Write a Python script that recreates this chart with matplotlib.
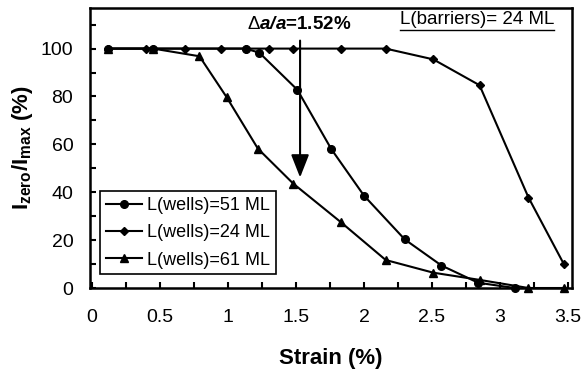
import matplotlib
matplotlib.use("Agg")
import matplotlib.pyplot as plt
from matplotlib.ticker import MultipleLocator

plt.rcParams['font.family'] = ['Liberation Sans', 'DejaVu Sans']
plt.rcParams['mathtext.fontset'] = 'custom'
plt.rcParams['mathtext.rm'] = 'Liberation Sans'
plt.rcParams['mathtext.it'] = 'Liberation Sans:italic'
plt.rcParams['mathtext.bf'] = 'Liberation Sans:bold'
plt.rcParams['mathtext.bfit'] = 'Liberation Sans:bold:italic'

# data
x_51 = [0.12, 0.45, 1.13, 1.23, 1.51, 1.76, 2.00, 2.30, 2.57, 2.84, 3.11]
y_51 = [100, 100, 100, 98.3, 82.8, 58.0, 38.6, 20.3, 9.4, 2.2, 0]

x_24 = [0.12, 0.40, 0.68, 0.95, 1.13, 1.30, 1.48, 1.83, 2.16, 2.51, 2.85, 3.21, 3.47]
y_24 = [100, 100, 100, 100, 100, 100, 100, 100, 100, 95.5, 84.7, 37.8, 10.0]

x_61 = [0.12, 0.45, 0.79, 0.99, 1.22, 1.48, 1.83, 2.16, 2.51, 2.85, 3.21, 3.47]
y_61 = [100, 100, 96.8, 79.7, 58.2, 43.6, 27.5, 11.7, 6.4, 3.4, 0, 0]

labels = ['L(wells)=51 ML', 'L(wells)=24 ML', 'L(wells)=61 ML']

fig = plt.figure(figsize=(5.86, 3.76), dpi=100)
ax = fig.add_axes([0.1536, 0.234, 0.8225, 0.745])

ax.plot(x_51, y_51, '-o', color='black', lw=1.5, ms=5.5, label=labels[0], clip_on=False)
ax.plot(x_24, y_24, '-D', color='black', lw=1.5, ms=4, label=labels[1], clip_on=False)
ax.plot(x_61, y_61, '-^', color='black', lw=1.5, ms=5.5, label=labels[2], clip_on=False)

ax.set_xlim(-0.015, 3.53)
ax.set_ylim(0, 117)
ax.xaxis.set_minor_locator(MultipleLocator(0.25))
ax.yaxis.set_minor_locator(MultipleLocator(10))
ax.set_xticks([0, 0.5, 1, 1.5, 2, 2.5, 3, 3.5])
ax.set_xticklabels(['0', '0.5', '1', '1.5', '2', '2.5', '3', '3.5'])
ax.set_yticks([0, 20, 40, 60, 80, 100])
ax.tick_params(which='both', direction='in', top=False, right=False,
               labelsize=14, width=1.5, length=4)
ax.tick_params(axis='x', pad=15)
ax.tick_params(axis='y', pad=12)
for s in ax.spines.values():
    s.set_linewidth(1.8)

ax.set_xlabel('Strain (%)', fontsize=16, fontweight='bold', labelpad=16)
ax.set_ylabel(r'$\mathbf{I_{zero}/I_{max}}$ (%)', fontsize=16, fontweight='bold', labelpad=4)

# arrow
ax.annotate('', xy=(1.53, 45), xytext=(1.53, 104.5),
            arrowprops=dict(arrowstyle='-|>,head_width=0.55,head_length=1.4',
                            color='black', lw=1.5))
ax.text(1.52, 110, r'$\Delta\mathbfit{a/a}$=1.52%', fontsize=13.5, fontweight='bold',
        ha='center', va='center')

ax.text(3.40, 112, 'L(barriers)= 24 ML', fontsize=13.5, ha='right', va='center')
ax.plot([2.265, 3.40], [107.9, 107.9], color='black', lw=1)

leg = ax.legend(loc='lower left', bbox_to_anchor=(0.01, 0.03), fontsize=13,
                frameon=True, fancybox=False, edgecolor='black', framealpha=1,
                handlelength=2.0, handletextpad=0.3, borderpad=0.3,
                labelspacing=0.58, borderaxespad=0.3)
leg.get_frame().set_linewidth(1.2)

fig.savefig('out.png', dpi=100)
